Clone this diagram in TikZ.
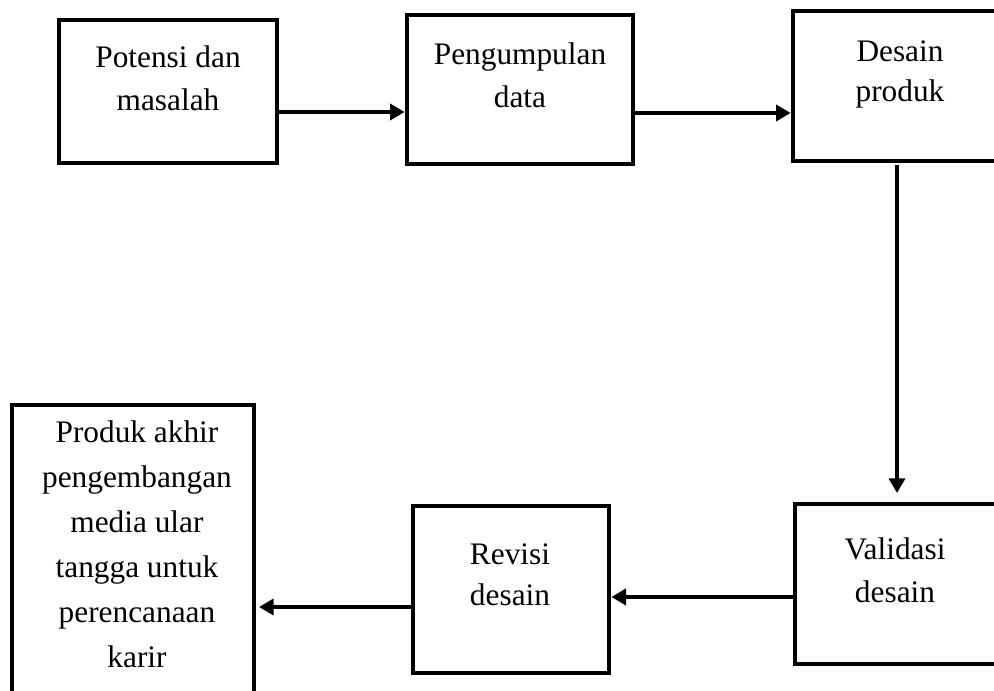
\documentclass[tikz,border=0pt]{standalone}
\usepackage{fontspec}
\setmainfont{Liberation Serif}
\usetikzlibrary{arrows.meta}
\begin{document}
\begin{tikzpicture}[x=0.75pt,y=-0.75pt,
  box/.style={draw, line width=3.5pt, inner sep=0pt, fill=white},
  txt/.style={anchor=base, align=center, inner sep=0pt,
    font=\fontsize{23.5pt}{32.25pt}\selectfont},
  arr/.style={line width=3.5pt, -{Triangle[length=11pt,width=12pt]}}]
\clip (0,0) rectangle (994,691);
\fill[white] (0,0) rectangle (994,691);
% boxes
\node[box, minimum width=163.5pt, minimum height=107.25pt] (b1) at (168,91.5) {};
\node[box, minimum width=169.5pt, minimum height=111.75pt] (b2) at (520,89.5) {};
\node[box, minimum width=160.5pt, minimum height=112.5pt] (b3) at (900,86) {};
\node[box, minimum width=153.75pt, minimum height=120pt] (b4) at (897.5,584) {};
\node[box, minimum width=147pt, minimum height=125.25pt] (b5) at (511,589.5) {};
\node[box, minimum width=181.5pt, minimum height=236.25pt] (b6) at (133,562.5) {};
% texts (anchor at the baseline of the last line)
\node[txt] (t1) at (168,111) {Potensi dan\\masalah};
\node[txt] (t2) at (520,108) {Pengumpulan\\data};
\node[txt, font=\fontsize{23.5pt}{30pt}\selectfont] (t3) at (900,102) {Desain\\produk};
\node[txt] (t4) at (895,602) {Validasi\\desain};
\node[txt, font=\fontsize{23.5pt}{30.75pt}\selectfont] (t5) at (510,605) {Revisi\\desain};
\node[txt, font=\fontsize{23.5pt}{33.75pt}\selectfont] (t6) at (137,667)
  {Produk akhir\\pengembangan\\media ular\\tangga untuk\\perencanaan\\karir};
% arrow levels
\coordinate (y1) at (0,112);
\coordinate (y2) at (0,113);
\coordinate (x3) at (897,0);
\coordinate (y4) at (0,597);
\coordinate (y5) at (0,607);
% connectors
\draw[arr] (b1.east |- y1) -- (b2.west |- y1);
\draw[arr] (b2.east |- y2) -- (b3.west |- y2);
\draw[arr, shorten <=1.5pt, shorten >=6.5pt] (b3.south -| x3) -- (b4.north -| x3);
\draw[arr] (b4.west |- y4) -- (b5.east |- y4);
\draw[arr, shorten >=2pt] (b5.west |- y5) -- (b6.east |- y5);
\end{tikzpicture}
\end{document}
